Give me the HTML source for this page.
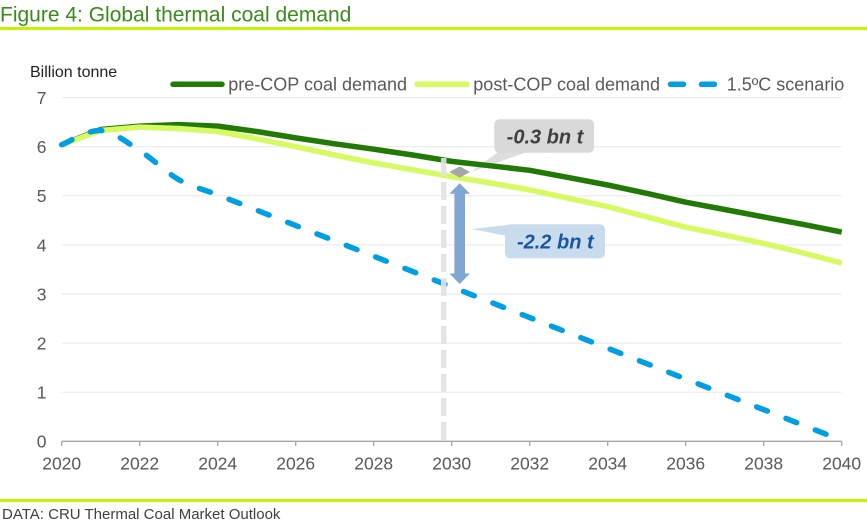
<!DOCTYPE html>
<html>
<head>
<meta charset="utf-8">
<style>
  html, body { margin: 0; padding: 0; background: #ffffff; }
  body { width: 867px; height: 526px; overflow: hidden; }
  svg { display: block; }
  text { font-family: "Liberation Sans", Arial, sans-serif; }
</style>
</head>
<body>
<svg width="867" height="526" viewBox="0 0 867 526" xmlns="http://www.w3.org/2000/svg">
  <rect x="0" y="0" width="867" height="526" fill="#ffffff"/>

  <!-- Title -->
  <text x="0" y="21.5" font-size="21" fill="#3a8a1c">Figure 4: Global thermal coal demand</text>
  <rect x="0" y="27" width="867" height="3" fill="#c4f400"/>

  <!-- Axis title -->
  <text x="30" y="77" font-size="16" fill="#222222">Billion tonne</text>

  <!-- Legend -->
  <line x1="173" y1="84.3" x2="222" y2="84.3" stroke="#217a06" stroke-width="5.5" stroke-linecap="round"/>
  <text x="228.3" y="90.5" font-size="18" fill="#595959">pre-COP coal demand</text>
  <line x1="417" y1="84.3" x2="467" y2="84.3" stroke="#d6fb62" stroke-width="5.5" stroke-linecap="round"/>
  <text x="473.3" y="90.5" font-size="18" fill="#595959">post-COP coal demand</text>
  <line x1="670.5" y1="84.3" x2="683.5" y2="84.3" stroke="#009fe3" stroke-width="5.5" stroke-linecap="round"/>
  <line x1="701.5" y1="84.3" x2="714.5" y2="84.3" stroke="#009fe3" stroke-width="5.5" stroke-linecap="round"/>
  <text x="726.7" y="90.5" font-size="18" fill="#595959">1.5ºC scenario</text>

  <!-- Gridlines -->
  <g stroke="#ececec" stroke-width="1.2">
    <line x1="61.7" y1="97.6" x2="841.7" y2="97.6"/>
    <line x1="61.7" y1="146.7" x2="841.7" y2="146.7"/>
    <line x1="61.7" y1="195.8" x2="841.7" y2="195.8"/>
    <line x1="61.7" y1="244.9" x2="841.7" y2="244.9"/>
    <line x1="61.7" y1="294.0" x2="841.7" y2="294.0"/>
    <line x1="61.7" y1="343.1" x2="841.7" y2="343.1"/>
    <line x1="61.7" y1="392.2" x2="841.7" y2="392.2"/>
  </g>

  <!-- Y labels -->
  <g font-size="17.5" fill="#595959" text-anchor="end">
    <text x="46.5" y="104">7</text>
    <text x="46.5" y="153.1">6</text>
    <text x="46.5" y="202.2">5</text>
    <text x="46.5" y="251.3">4</text>
    <text x="46.5" y="300.4">3</text>
    <text x="46.5" y="349.5">2</text>
    <text x="46.5" y="398.6">1</text>
    <text x="46.5" y="447.7">0</text>
  </g>

  <!-- X axis -->
  <line x1="61.7" y1="441.3" x2="841.7" y2="441.3" stroke="#a6a6a6" stroke-width="1.3"/>
  <g stroke="#a6a6a6" stroke-width="1.3">
    <line x1="61.7" y1="441.3" x2="61.7" y2="446"/>
    <line x1="139.7" y1="441.3" x2="139.7" y2="446"/>
    <line x1="217.7" y1="441.3" x2="217.7" y2="446"/>
    <line x1="295.7" y1="441.3" x2="295.7" y2="446"/>
    <line x1="373.7" y1="441.3" x2="373.7" y2="446"/>
    <line x1="451.7" y1="441.3" x2="451.7" y2="446"/>
    <line x1="529.7" y1="441.3" x2="529.7" y2="446"/>
    <line x1="607.7" y1="441.3" x2="607.7" y2="446"/>
    <line x1="685.7" y1="441.3" x2="685.7" y2="446"/>
    <line x1="763.7" y1="441.3" x2="763.7" y2="446"/>
    <line x1="841.7" y1="441.3" x2="841.7" y2="446"/>
  </g>
  <g font-size="17.5" fill="#595959" text-anchor="middle">
    <text x="61.7" y="469.5">2020</text>
    <text x="139.7" y="469.5">2022</text>
    <text x="217.7" y="469.5">2024</text>
    <text x="295.7" y="469.5">2026</text>
    <text x="373.7" y="469.5">2028</text>
    <text x="451.7" y="469.5">2030</text>
    <text x="529.7" y="469.5">2032</text>
    <text x="607.7" y="469.5">2034</text>
    <text x="685.7" y="469.5">2036</text>
    <text x="763.7" y="469.5">2038</text>
    <text x="841.7" y="469.5">2040</text>
  </g>

  <!-- Grey callout (below series) -->
  <polygon points="471.7,171.7 498,152 527,152" fill="#dedede"/>
  <rect x="494.3" y="119.3" width="99.7" height="33.4" rx="5" ry="5" fill="#d9d9d9"/>
  <text x="545" y="143.5" font-size="20" font-weight="bold" font-style="italic" fill="#404040" text-anchor="middle">-0.3 bn t</text>

  <!-- Series: pre-COP -->
  <polyline fill="none" stroke="#217a06" stroke-width="5.5" stroke-linejoin="round" stroke-linecap="butt"
    points="61.7,144.7 100.7,129.5 139.7,126.1 178.7,124.6 217.7,126.1 256.7,131.5 295.7,137.9 334.7,143.8 373.7,149.2 412.7,155.0 451.7,161.4 490.7,165.8 529.7,170.3 568.7,177.6 607.7,185.0 646.7,193.3 685.7,202.2 724.7,209.5 763.7,216.9 802.7,224.3 841.7,232.1"/>
  <!-- Series: post-COP -->
  <polyline fill="none" stroke="#d6fb62" stroke-width="5.5" stroke-linejoin="round" stroke-linecap="butt"
    points="61.7,144.7 100.7,130.5 139.7,127.1 178.7,128.5 217.7,131.5 256.7,138.8 295.7,146.7 334.7,155.0 373.7,162.9 412.7,169.8 451.7,176.7 490.7,183.0 529.7,189.9 568.7,198.3 607.7,206.6 646.7,216.9 685.7,227.2 724.7,235.1 763.7,243.4 802.7,252.8 841.7,263.1"/>
  <!-- Series: 1.5C scenario -->
  <path fill="none" stroke="#009fe3" stroke-width="5.5" stroke-linecap="round" stroke-linejoin="round"
    stroke-dasharray="11.5 20"
    d="M61.7,144.7 C68.2,142.3 87.7,129.5 100.7,130.5 C113.7,131.5 126.7,142.4 139.7,150.6 C152.7,158.8 165.7,172.2 178.7,179.6 C191.7,187.0 204.7,189.7 217.7,194.8 L839.5,439.5"/>

  <!-- Vertical grey dashed line at 2030 -->
  <line x1="443.7" y1="158" x2="443.7" y2="441" stroke="#e2e2e2" stroke-opacity="0.9" stroke-width="5.5" stroke-dasharray="18 6"/>

  <!-- Diamond -->
  <polygon points="449.3,172 459.7,166.4 470.1,172 459.7,177.6" fill="#a6a6a6"/>

  <!-- Double arrow -->
  <polygon points="459.7,183.3 470,193.8 465,193.8 465,273.5 470,273.5 459.7,284 449.4,273.5 454.4,273.5 454.4,193.8 449.4,193.8" fill="#7fa7d1"/>

  <!-- Blue callout -->
  <polygon points="471.7,229 507,225 507,236" fill="#c9dcee"/>
  <rect x="505" y="224.3" width="100" height="34" rx="5" ry="5" fill="#c9dcee"/>
  <text x="555.3" y="248.5" font-size="20" font-weight="bold" font-style="italic" fill="#1a56a0" text-anchor="middle">-2.2 bn t</text>

  <!-- Footer -->
  <rect x="0" y="499" width="867" height="3" fill="#c4f400"/>
  <text x="2" y="519" font-size="15" fill="#404040">DATA: CRU Thermal Coal Market Outlook</text>
</svg>
</body>
</html>
